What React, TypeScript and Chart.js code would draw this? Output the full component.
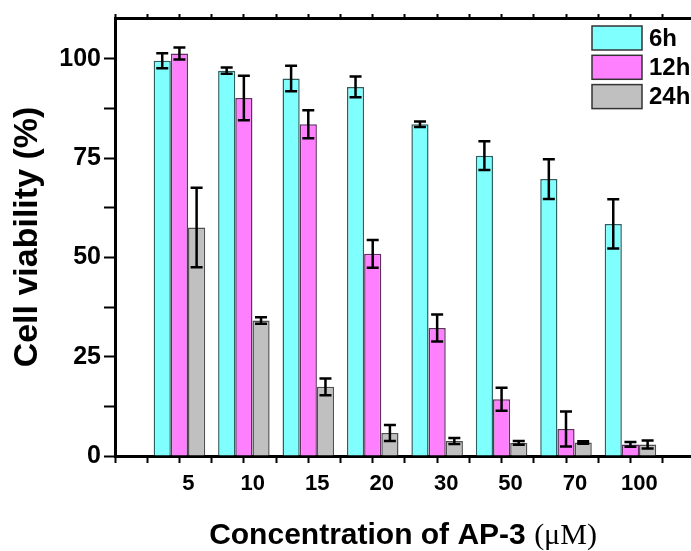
import React, { useEffect, useRef } from 'react';
import { Chart, registerables } from 'chart.js';

Chart.register(...registerables);

// ---- data ----
const concentrations = ['5', '10', '15', '20', '30', '50', '70', '100'];
const seriesLabels = ['6h', '12h', '24h'];
const viability6h = [99.5, 97.0, 95.0, 92.9, 83.5, 75.6, 69.7, 58.4];
const error6h = [1.9, 0.8, 3.2, 2.6, 0.7, 3.6, 5.0, 6.2];
const viability12h = [101.3, 90.1, 83.5, 50.9, 32.2, 14.3, 6.8, 2.9];
const error12h = [1.5, 5.6, 3.5, 3.5, 3.4, 2.9, 4.4, 0.6];
const viability24h = [57.5, 34.1, 17.4, 5.8, 3.8, 3.3, 3.4, 2.9];
const error24h = [10.0, 0.8, 2.1, 2.0, 0.75, 0.45, 0.3, 1.0];
const yTickValues = [0, 25, 50, 75, 100];
const xTitleMain = 'Concentration of AP-3 ';
const xTitleUnit = '(μM)';
const yTitle = 'Cell viability (%)';

const SANS = '"Liberation Sans", Arial, Helvetica, sans-serif';
const SERIF = '"Liberation Serif", "Times New Roman", serif';

const values = [viability6h, viability12h, viability24h];
const errors = [error6h, error12h, error24h];
const fills = ['#80FFFF', '#FF80FF', '#C0C0C0'];
const borders = ['#2f6060', '#603060', '#505050'];

const errorBarPlugin = {
  id: 'errorBars',
  afterDatasetsDraw(chart: any) {
    const ctx = chart.ctx;
    const yScale = chart.scales.y;
    ctx.save();
    ctx.strokeStyle = '#000';
    ctx.lineWidth = 2.5;
    chart.data.datasets.forEach((_ds: any, di: number) => {
      const meta = chart.getDatasetMeta(di);
      meta.data.forEach((bar: any, i: number) => {
        const v = values[di][i];
        const e = errors[di][i];
        const x = bar.x;
        const yt = yScale.getPixelForValue(v + e);
        const yb = yScale.getPixelForValue(v - e);
        const cap = 6;
        ctx.beginPath();
        ctx.moveTo(x, yt);
        ctx.lineTo(x, yb);
        ctx.moveTo(x - cap, yt);
        ctx.lineTo(x + cap, yt);
        ctx.moveTo(x - cap, yb);
        ctx.lineTo(x + cap, yb);
        ctx.stroke();
      });
    });
    ctx.restore();
  },
};

const legendAndTitlePlugin = {
  id: 'legendAndTitle',
  afterDraw(chart: any) {
    const ctx = chart.ctx;
    const ca = chart.chartArea;
    ctx.save();
    // legend
    const x0 = ca.right - 99;
    const y0 = ca.top + 8;
    chart.data.datasets.forEach((ds: any, i: number) => {
      const y = y0 + i * 29.3;
      ctx.fillStyle = ds.backgroundColor;
      ctx.fillRect(x0, y, 50, 24);
      ctx.strokeStyle = '#333';
      ctx.lineWidth = 1.5;
      ctx.strokeRect(x0, y, 50, 24);
      ctx.fillStyle = '#000';
      ctx.font = `bold 24px ${SANS}`;
      ctx.textBaseline = 'middle';
      ctx.textAlign = 'left';
      ctx.fillText(ds.label, x0 + 57, y + 13);
    });
    // x title with mixed fonts
    const xs = chart.scales.x;
    const cx = (ca.left + ca.right) / 2;
    const baseY = xs.bottom - 7;
    ctx.font = `bold 30px ${SANS}`;
    const w1 = ctx.measureText(xTitleMain).width;
    ctx.font = `30px ${SERIF}`;
    const w2 = ctx.measureText(xTitleUnit).width;
    const start = cx - (w1 + w2) / 2;
    ctx.textBaseline = 'alphabetic';
    ctx.textAlign = 'left';
    ctx.fillStyle = '#000';
    ctx.font = `bold 30px ${SANS}`;
    ctx.fillText(xTitleMain, start, baseY);
    ctx.font = `30px ${SERIF}`;
    ctx.fillText(xTitleUnit, start + w1, baseY);
    ctx.restore();
  },
};

export default function App() {
  const ref = useRef<HTMLCanvasElement>(null);
  useEffect(() => {
    document.body.style.margin = '0';
    const xMax = concentrations.length + 0.94;
    const chart = new Chart(ref.current as HTMLCanvasElement, {
      type: 'bar',
      data: {
        datasets: seriesLabels.map((label, di) => ({
          label,
          data: concentrations.map((_c, i) => ({ x: i + 1, y: values[di][i] })),
          backgroundColor: fills[di],
          borderColor: borders[di],
          borderWidth: 1.5,
          categoryPercentage: 1.6,
          barPercentage: 1.0,
        })),
      },
      options: {
        animation: false,
        responsive: false,
        devicePixelRatio: 1,
        layout: { padding: 0 },
        plugins: {
          legend: { display: false },
          tooltip: { enabled: false },
        },
        scales: {
          x: {
            type: 'linear',
            position: 'bottom',
            offset: false,
            min: 0,
            max: xMax,
            ticks: {
              stepSize: 0.5,
              includeBounds: false,
              autoSkip: false,
              maxRotation: 0,
              labelOffset: 9,
              padding: 8,
              color: '#000',
              font: { family: SANS, size: 22, weight: 'bold' },
              callback: (v: any) => {
                const n = Number(v);
                return Number.isInteger(n) && n >= 1 && n <= concentrations.length
                  ? concentrations[n - 1]
                  : '';
              },
            },
            grid: { offset: false, drawOnChartArea: false, tickLength: 7, tickWidth: 2, color: '#000' },
            border: { width: 3, color: '#000' },
            afterFit: (s: any) => {
              s.height = 95;
            },
          },
          xTop: {
            type: 'linear',
            position: 'top',
            offset: false,
            min: 0,
            max: xMax,
            ticks: { display: false, stepSize: 0.5, includeBounds: false },
            grid: { offset: false, drawOnChartArea: false, tickLength: 4, tickWidth: 2, color: '#000' },
            border: { width: 3, color: '#000' },
            afterFit: (s: any) => {
              s.height = 14;
            },
          },
          y: {
            min: 0,
            max: 110.25,
            ticks: {
              stepSize: 12.5,
              includeBounds: false,
              autoSkip: false,
              padding: 3,
              color: '#000',
              font: { family: SANS, size: 25, weight: 'bold' },
              callback: (v: any) => (yTickValues.includes(Number(v)) ? String(v) : ''),
            },
            grid: { drawOnChartArea: false, tickLength: 11, tickWidth: 2, color: '#000' },
            border: { width: 3, color: '#000' },
            title: {
              display: true,
              text: yTitle,
              color: '#000',
              font: { family: SANS, size: 34, weight: 'bold' },
              padding: { top: 7, bottom: 0 },
            },
            afterFit: (s: any) => {
              s.width = 115;
            },
          },
        },
      },
      plugins: [errorBarPlugin, legendAndTitlePlugin],
    } as any);
    return () => chart.destroy();
  }, []);
  return (
    <div style={{ width: 691, height: 551 }}>
      <canvas ref={ref} width={691} height={551} style={{ display: 'block', width: 691, height: 551 }} />
    </div>
  );
}
